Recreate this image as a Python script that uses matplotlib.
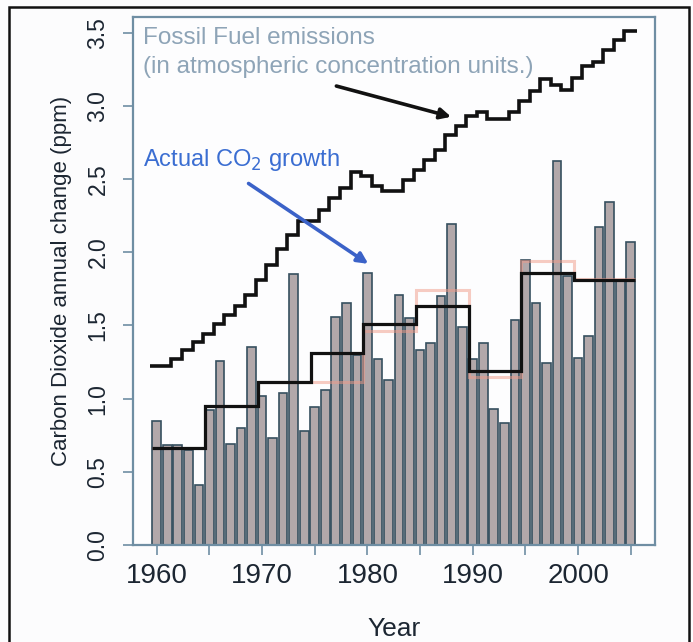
import matplotlib
matplotlib.use("Agg")
import matplotlib.pyplot as plt
import numpy as np
from matplotlib.patches import Rectangle

plt.rcParams['font.family'] = ['Liberation Sans', 'DejaVu Sans']

years = np.arange(1960, 2006)

# annual CO2 growth (ppm)
growth = [0.85, 0.68, 0.68, 0.65, 0.41, 0.92, 1.26, 0.69, 0.80, 1.35,
          1.02, 0.73, 1.04, 1.85, 0.78, 0.94, 1.06, 1.56, 1.65, 1.30,
          1.86, 1.27, 1.13, 1.71, 1.55, 1.33, 1.38, 1.70, 2.19, 1.49,
          1.27, 1.38, 0.93, 0.83, 1.54, 1.95, 1.65, 1.24, 2.62, 1.84,
          1.28, 1.43, 2.17, 2.34, 1.80, 2.07]

# fossil fuel emissions expressed in ppm
fossil = [1.22, 1.22, 1.27, 1.33, 1.39, 1.44, 1.51, 1.57, 1.63, 1.71,
          1.81, 1.91, 2.02, 2.12, 2.21, 2.21, 2.29, 2.37, 2.44, 2.55,
          2.52, 2.45, 2.42, 2.42, 2.49, 2.56, 2.63, 2.70, 2.80, 2.86,
          2.93, 2.96, 2.91, 2.91, 2.96, 3.03, 3.10, 3.18, 3.14, 3.11,
          3.19, 3.27, 3.30, 3.38, 3.45, 3.51]

# five year means
pent_start = [1960, 1965, 1970, 1975, 1980, 1985, 1990, 1995, 2000]
pent_mean = [0.66, 0.95, 1.11, 1.31, 1.51, 1.63, 1.19, 1.86, 1.81]
pent_alt = [0.66, 0.95, 1.11, 1.11, 1.46, 1.74, 1.15, 1.94, 1.82]

fig = plt.figure(figsize=(6.93, 6.42), dpi=100)
fig.patch.set_facecolor('#fcfcfd')
ax = fig.add_axes([133/693, 1 - 545/642, (655 - 133)/693, (545 - 16.5)/642])
ax.set_facecolor('#fdfdfe')

# outer frame
fig.patches.append(Rectangle((9/693, -0.01), (689 - 9)/693, 1 - 7/642 + 0.01,
                             transform=fig.transFigure, fill=False,
                             edgecolor='#111111', linewidth=1.8))

ax.bar(years, growth, width=0.82, color='#b2a8aa', edgecolor='#36505f',
       linewidth=1.2, zorder=2)

edges = np.append(np.array(pent_start) - 0.4, 2005.4)
ax.stairs(pent_alt, edges, color='#f09a88', linewidth=2.2, alpha=0.5,
          baseline=None, zorder=3)
ax.stairs(pent_mean, edges, color='#111111', linewidth=2.3,
          baseline=None, zorder=4)

fedges = np.append(years - 0.6, 2005.6)
ax.stairs(fossil, fedges, color='#111111', linewidth=2.6,
          baseline=None, zorder=4)

ax.set_xlim(1957.75, 2007.3)
ax.set_ylim(0, 3.61)

ax.set_xticks(np.arange(1960, 2006, 5))
ax.set_xticklabels(['1960', '', '1970', '', '1980', '', '1990', '', '2000', ''])
ax.set_yticks(np.arange(0, 3.6, 0.5))
ax.set_yticklabels(['%.1f' % v for v in np.arange(0, 3.6, 0.5)],
                   rotation=90, va='center')

box = '#6f8ea3'
for s in ax.spines.values():
    s.set_color(box)
    s.set_linewidth(1.6)
ax.tick_params(axis='both', direction='out', length=7, width=1.2, color=box)
ax.tick_params(axis='x', labelsize=20, pad=6, labelcolor='#1c2632')
ax.tick_params(axis='y', labelsize=16.5, pad=10, labelcolor='#1c2632')

ax.set_xlabel('Year', fontsize=19, color='#1c2632', labelpad=20)
ax.set_ylabel('Carbon Dioxide annual change (ppm)', fontsize=16,
              color='#1c2632', labelpad=10)

ax.text(143/693, 1 - 44/642, 'Fossil Fuel emissions', transform=fig.transFigure,
        fontsize=17.5, color='#8ea4b7')
ax.text(143/693, 1 - 73/642, '(in atmospheric concentration units.)',
        transform=fig.transFigure, fontsize=17.5, color='#8ea4b7')
ax.text(143/693, 1 - 166/642, r'Actual CO$_2$ growth', transform=fig.transFigure,
        fontsize=17, color='#3b6ed2')

ax.annotate('', xy=(1988.2, 2.92), xytext=(1976.8, 3.14),
            arrowprops=dict(arrowstyle='-|>', color='#111111', lw=2.6,
                            mutation_scale=16), zorder=5)
ax.annotate('', xy=(1980.3, 1.91), xytext=(1968.5, 2.48),
            arrowprops=dict(arrowstyle='-|>', color='#3b62c8', lw=2.6,
                            mutation_scale=16), zorder=5)

fig.savefig('out.png', dpi=100, facecolor=fig.get_facecolor())
